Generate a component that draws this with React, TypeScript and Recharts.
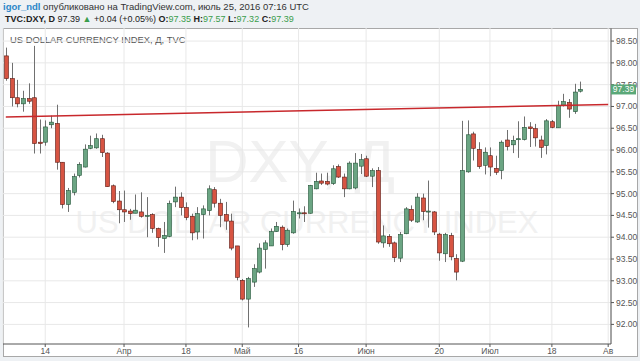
import React from 'react';
import { ComposedChart, Bar, XAxis, YAxis, CartesianGrid, ReferenceLine } from 'recharts';

// DXY daily candles, 3 Mar 2016 .. 25 Jul 2016
const opens = [
  98.16, 97.64, 97.2, 97.06, 97.18, 97.2, 96.18, 96.18, 96.58, 96.61,
  95.72, 94.75, 95.03, 95.42, 95.61, 96.04, 96.05, 96.26, 95.93, 95.18,
  94.83, 94.63, 94.6, 94.55, 94.58, 94.48, 94.52, 94.2, 93.97, 94.02,
  94.81, 94.92, 94.68, 94.48, 94.12, 94.52, 94.61, 95.09, 94.78, 94.52,
  94.37, 93.8, 93.01, 92.58, 92.97, 93.2, 93.72, 93.8, 94.13, 94.23,
  93.83, 94.1, 94.55, 94.56, 94.55, 95.11, 95.29, 95.28, 95.23, 95.62,
  95.38, 95.11, 95.13, 95.63, 95.8, 95.4, 95.53, 93.87, 94.02, 93.87,
  93.52, 94.08, 94.64, 94.35, 94.9, 94.59, 94.58, 94.07, 93.62, 94.04,
  93.51, 93.45, 95.5, 96.37, 96.01, 95.65, 95.87, 95.58, 95.53, 96.23,
  96.12, 96.25, 96.24, 96.53, 96.49, 96.23, 96.1, 96.65, 96.51, 97.03,
  97.09, 96.88, 97.35,
];
const highs = [
  98.35, 98.0, 97.61, 97.36, 97.53, 98.39, 96.7, 96.68, 96.79, 97.04,
  95.72, 95.13, 95.46, 95.72, 96.13, 96.33, 96.38, 96.35, 95.95, 95.21,
  95.06, 95.07, 94.65, 94.98, 95.03, 94.92, 94.55, 94.22, 94.35, 94.84,
  95.16, 95.03, 94.8, 94.54, 94.69, 94.73, 95.19, 95.15, 94.88, 94.81,
  94.54, 93.8, 93.04, 93.09, 93.38, 93.86, 93.93, 94.2, 94.35, 94.27,
  94.2, 94.84, 94.66, 94.71, 95.2, 95.48, 95.46, 95.48, 95.65, 95.67,
  95.46, 95.74, 95.93, 95.91, 95.87, 95.58, 95.61, 94.27, 94.07, 93.9,
  94.12, 94.69, 94.73, 95.01, 95.0, 95.3, 94.6, 94.1, 94.1, 94.1,
  93.61, 96.67, 96.68, 96.42, 96.18, 96.06, 96.06, 95.87, 96.22, 96.46,
  96.33, 96.66, 96.77, 96.64, 96.6, 96.33, 96.71, 96.69, 97.13, 97.29,
  97.17, 97.52, 97.57,
];
const lows = [
  97.59, 97.0, 96.98, 96.88, 97.06, 95.92, 95.92, 96.1, 96.5, 95.55,
  94.66, 94.58, 94.96, 95.37, 95.6, 96.02, 96.03, 95.84, 95.16, 94.78,
  94.32, 94.35, 94.4, 94.55, 94.45, 94.0, 94.1, 93.78, 93.64, 94.0,
  94.69, 94.5, 94.39, 93.93, 93.95, 93.97, 94.5, 94.68, 94.23, 94.17,
  93.7, 93.01, 92.55, 91.93, 92.86, 93.17, 93.28, 93.8, 94.12, 93.7,
  93.78, 94.08, 94.43, 94.35, 94.54, 95.1, 95.2, 95.19, 95.2, 95.36,
  94.92, 95.1, 95.1, 95.45, 95.38, 95.15, 93.85, 93.76, 93.78, 93.43,
  93.43, 94.07, 94.35, 94.33, 94.39, 94.22, 94.05, 93.46, 93.43, 93.47,
  93.01, 93.43, 95.48, 95.76, 95.57, 95.44, 95.4, 95.43, 95.33, 95.99,
  95.93, 95.82, 96.22, 96.07, 96.08, 95.82, 95.9, 96.5, 96.51, 97.0,
  96.74, 96.83, 97.32,
];
const closes = [
  97.64, 97.2, 97.06, 97.18, 97.12, 96.15, 96.15, 96.53, 96.64, 95.72,
  94.75, 95.07, 95.39, 95.67, 96.02, 96.1, 96.26, 95.94, 95.16, 94.82,
  94.63, 94.58, 94.54, 94.62, 94.48, 94.5, 94.2, 93.99, 94.04, 94.77,
  94.92, 94.68, 94.45, 94.1, 94.54, 94.65, 95.11, 94.78, 94.5, 94.37,
  93.75, 93.08, 92.58, 93.05, 93.28, 93.75, 93.87, 94.13, 94.25, 93.83,
  94.16, 94.59, 94.56, 94.55, 95.19, 95.28, 95.24, 95.22, 95.57, 95.38,
  95.11, 95.7, 95.7, 95.78, 95.4, 95.53, 93.89, 94.03, 93.85, 93.53,
  94.06, 94.65, 94.39, 94.92, 94.59, 94.6, 94.12, 93.64, 94.06, 93.55,
  93.2, 95.53, 96.35, 96.04, 95.62, 95.95, 95.61, 95.49, 96.18, 96.08,
  96.22, 96.26, 96.52, 96.49, 96.28, 96.06, 96.67, 96.52, 97.02, 97.11,
  96.94, 97.33, 97.39,
];

// empty slots to the right of the last candle (up to early August)
const futureSlots = 5;

const timeTicks = [7, 21, 32, 42, 52, 64, 77, 86, 97, 107];
const timeLabels = ['14', 'Апр', '18', 'Май', '16', 'Июн', '20', 'Июл', '18', 'Ав'];

const priceTicks = [92, 92.5, 93, 93.5, 94, 94.5, 95, 95.5, 96, 96.5, 97, 97.5, 98, 98.5];

const trendFrom = 96.76;
const trendTo = 97.045;
const lastPrice = 97.39;

const data = Array.from({ length: opens.length + futureSlots }, (_, i) => ({
  idx: i,
  open: i < opens.length ? opens[i] : null,
  high: i < opens.length ? highs[i] : null,
  low: i < opens.length ? lows[i] : null,
  close: i < opens.length ? closes[i] : null,
}));

const FONT = "'Liberation Sans', Arial, sans-serif";
const UP = '#6ba583';
const DOWN = '#d75442';

function Candle(props: any) {
  const { x, y, width, height, payload } = props;
  if (!payload || payload.high == null) return null;
  const { open, close, high, low } = payload;
  const top = Math.min(y, y + height);
  const bot = Math.max(y, y + height);
  const k = (bot - top) / (high - low || 1);
  const py = (v: number) => top + (high - v) * k;
  const up = close >= open;
  const cx = Math.round(x + width / 2) + 0.5;
  const bTop = py(Math.max(open, close));
  const bBot = py(Math.min(open, close));
  return (
    <g>
      <line x1={cx} x2={cx} y1={top} y2={bot} stroke="#707070" strokeWidth={1} />
      <rect
        x={cx - 2}
        y={bTop}
        width={4}
        height={Math.max(1, bBot - bTop)}
        fill={up ? UP : DOWN}
        stroke={up ? '#225437' : '#5b1a13'}
        strokeWidth={0.6}
      />
    </g>
  );
}

// price scale tick; the last price is drawn as a green badge on top of the others
function PriceTick(props: any) {
  const { x, y, payload } = props;
  const v = payload.value;
  if (v === lastPrice) {
    return (
      <g>
        <rect x={x - 5} y={y - 5} width={25} height={10} fill="#5aa878" />
        <text x={x + 7.5} y={y + 3} textAnchor="middle" fontSize={8.5} fill="#fff" fontFamily={FONT}>
          {v.toFixed(2)}
        </text>
      </g>
    );
  }
  return (
    <text x={x} y={y + 3} fontSize={8.5} fill="#555" fontFamily={FONT}>
      {v.toFixed(2)}
    </text>
  );
}

const green = { color: '#3a9d4c' };

export default function App() {
  return (
    <div style={{ position: 'absolute', left: 0, top: 0, width: 640, height: 361, background: '#eef1f4', fontFamily: FONT, overflow: 'hidden' }}>
      <div style={{ position: 'absolute', left: 3, top: 0, fontSize: 9.5, lineHeight: '13px', color: '#333', whiteSpace: 'nowrap' }}>
        <span style={{ color: '#2b86c8', fontWeight: 'bold' }}>igor_ndl</span> опубликовано на TradingView.com, июль 25, 2016 07:16 UTC
      </div>
      <div style={{ position: 'absolute', left: 5, top: 13, fontSize: 9, lineHeight: '13px', color: '#222', whiteSpace: 'nowrap' }}>
        <b>TVC:DXY, D</b> 97.39 <span style={green}>▲</span> +0.04 (+0.05%) <b>O:</b><span style={green}>97.35</span> <b>H:</b>
        <span style={green}>97.57</span> <b>L:</b><span style={green}>97.32</span> <b>C:</b><span style={green}>97.39</span>
      </div>
      <div style={{ position: 'absolute', left: 3, top: 28, width: 635, height: 329, background: '#fff', border: '1px solid #a8a8a8', boxSizing: 'border-box' }} />
      <svg width={640} height={361} style={{ position: 'absolute', left: 0, top: 0 }}>
        <text x={300} y={182} textAnchor="middle" fontSize={60} fill="#f1f1f1" fontFamily={FONT}>DXY, Д</text>
        <text x={307} y={233} textAnchor="middle" fontSize={31} fill="#f1f1f1" fontFamily={FONT}>US DOLLAR CURRENCY INDEX</text>
        <text x={10} y={43} fontSize={9.4} fill="#555" fontFamily={FONT}>US DOLLAR CURRENCY INDEX, Д, TVC</text>
      </svg>
      <div style={{ position: 'absolute', left: 0, top: 0 }}>
        <ComposedChart width={640} height={361} data={data} margin={{ top: 28, right: 2, bottom: 5, left: 3 }}>
          <CartesianGrid stroke="#e8e8e8" horizontalValues={priceTicks} />
          <XAxis
            dataKey="idx"
            type="category"
            ticks={timeTicks}
            interval={0}
            tickFormatter={(v: number) => timeLabels[timeTicks.indexOf(v)] ?? ''}
            height={12}
            tickSize={3}
            tickMargin={1}
            tick={{ fontSize: 8.5, fill: '#555', fontFamily: FONT }}
            axisLine={{ stroke: '#555' }}
            tickLine={{ stroke: '#555' }}
          />
          <YAxis
            orientation="right"
            type="number"
            domain={[91.55, 98.8]}
            allowDataOverflow
            ticks={[...priceTicks, lastPrice]}
            interval={0}
            width={27}
            tickSize={3}
            tickMargin={2}
            tick={<PriceTick />}
            axisLine={{ stroke: '#555' }}
            tickLine={{ stroke: '#555' }}
          />
          <Bar
            dataKey={(d: any) => (d.high == null ? null : [d.low, d.high])}
            barSize={4}
            shape={<Candle />}
            isAnimationActive={false}
          />
          <ReferenceLine
            segment={[{ x: 0, y: trendFrom }, { x: 107, y: trendTo }]}
            stroke="#c8282c"
            strokeWidth={1.5}
          />
        </ComposedChart>
      </div>
    </div>
  );
}
